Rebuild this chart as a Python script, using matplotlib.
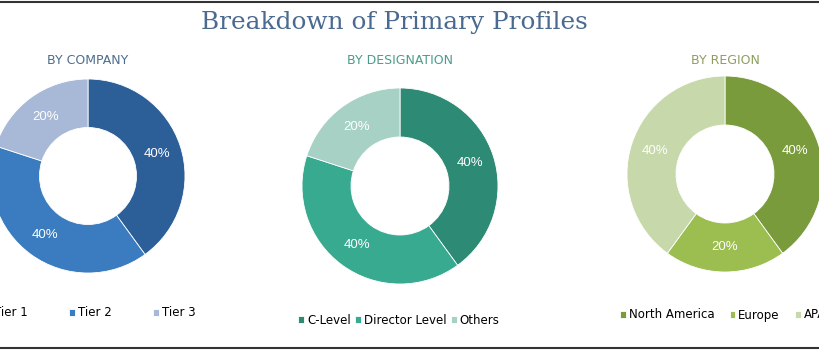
import matplotlib
matplotlib.use("Agg")
import matplotlib.pyplot as plt
from matplotlib.lines import Line2D

W, H = 820, 350

company_labels = ["Tier 1", "Tier 2", "Tier 3"]
company_values = [40, 40, 20]
designation_labels = ["C-Level", "Director Level", "Others"]
designation_values = [40, 40, 20]
region_labels = ["North America", "Europe", "APAC"]
region_values = [40, 20, 40]

company_colors = ["#2c5f98", "#3a7cbf", "#a7b9d6"]
designation_colors = ["#2d8a74", "#38aa90", "#a6d1c4"]
region_colors = ["#7a9b3b", "#9cbd50", "#c7d8aa"]


def px_axes(fig, cx, cy, r):
    return fig.add_axes([(cx - r) / W, (H - cy - r) / H, 2 * r / W, 2 * r / H])


def donut(fig, cx, cy, r, values, labels, colors, title, title_color,
          legend_x, legend_y, colspacing):
    ax = px_axes(fig, cx, cy, r)
    wedges, texts, autotexts = ax.pie(
        values, colors=colors, startangle=90, counterclock=False,
        radius=1, autopct="%d%%", pctdistance=0.75,
        wedgeprops=dict(width=0.5, edgecolor="white", linewidth=0.6),
        textprops=dict(color="white", fontsize=9.5, family="Liberation Sans"))
    ax.set_xlim(-1, 1)
    ax.set_ylim(-1, 1)
    ax.set_aspect("auto")
    ax.axis("off")
    fig.text(cx / W, 1 - 60 / H, title, ha="center", va="center",
             fontsize=9, color=title_color, family="DejaVu Sans")
    fig.legend(wedges, labels, loc="center", ncol=3, frameon=False,
               bbox_to_anchor=(legend_x / W, 1 - legend_y / H),
               handlelength=0.5, handleheight=0.5, handletextpad=0.25,
               columnspacing=colspacing,
               prop=dict(family="DejaVu Sans", size=8.5))
    return ax


fig = plt.figure(figsize=(W / 100, H / 100), dpi=100)
fig.patch.set_facecolor("white")

fig.text(394 / W, 1 - 22 / H, "Breakdown of Primary Profiles", ha="center",
         va="center", fontsize=17.8, color="#4a6a8f", family="DejaVu Serif")

donut(fig, 88, 176, 97, company_values, company_labels, company_colors,
      "BY COMPANY", "#4d6d8c", 90, 313, 3.5)
donut(fig, 400, 186, 98, designation_values, designation_labels,
      designation_colors, "BY DESIGNATION", "#4a9c8a", 399, 320, 0.35)
donut(fig, 725, 174, 98, region_values, region_labels, region_colors,
      "BY REGION", "#8f9e5e", 727, 315, 1.25)

fig.add_artist(Line2D([0, 1], [1 - 1.5 / H, 1 - 1.5 / H], color="#333333",
                      linewidth=1.5, transform=fig.transFigure))
fig.add_artist(Line2D([0, 1], [1 - 348 / H, 1 - 348 / H], color="#333333",
                      linewidth=1.5, transform=fig.transFigure))

fig.savefig("out.png", dpi=100)
